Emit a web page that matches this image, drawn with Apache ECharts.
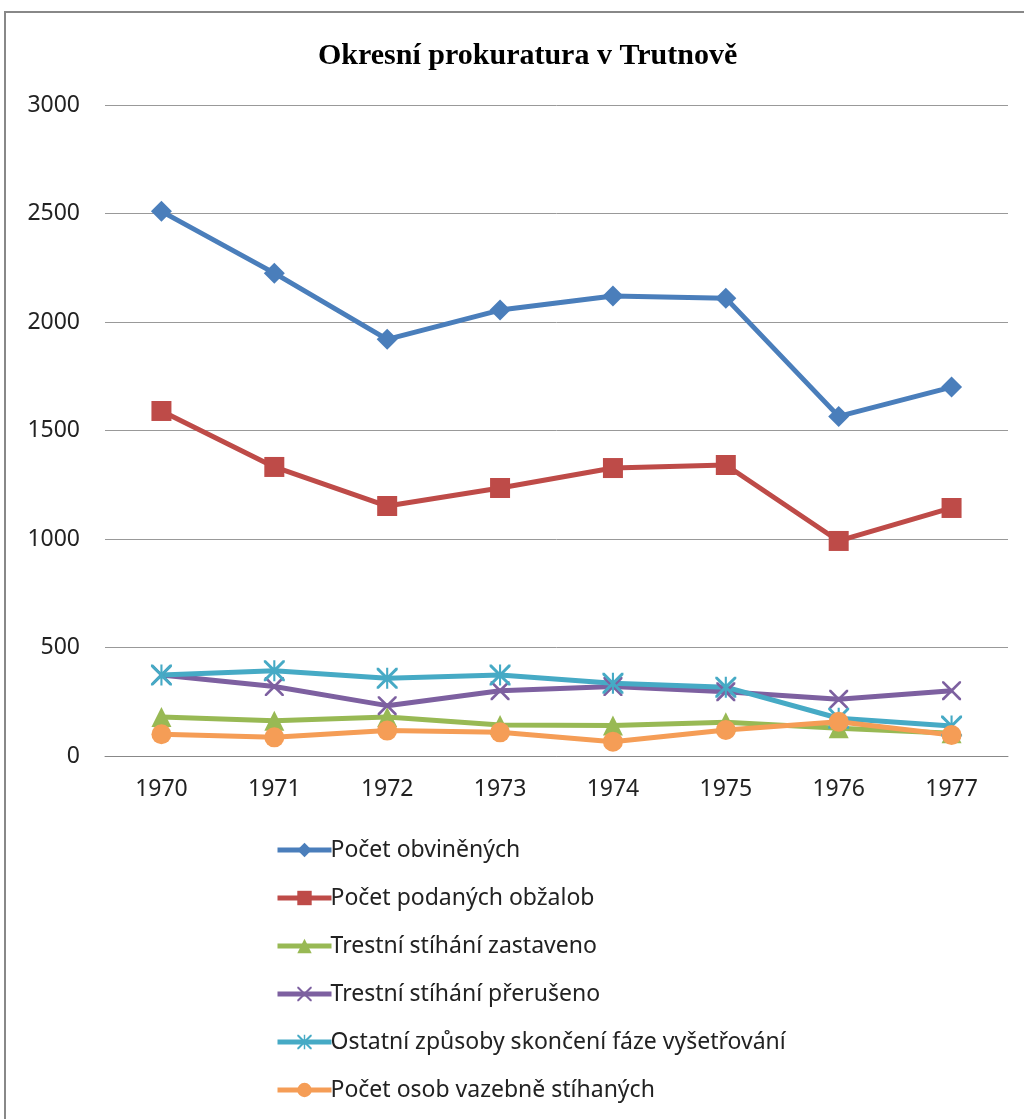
<!DOCTYPE html>
<html>
<head>
<meta charset="utf-8">
<script src="https://cdn.jsdelivr.net/npm/echarts@6/dist/echarts.min.js"></script>
<style>
  html, body { margin: 0; padding: 0; background: #fff; }
  #main { width: 1024px; height: 1119px; }
</style>
</head>
<body>
<div id="main"></div>
<script>
const years = ['1970', '1971', '1972', '1973', '1974', '1975', '1976', '1977'];
const obvinenych = [2510, 2225, 1920, 2055, 2120, 2110, 1565, 1700];
const obzalob = [1590, 1332, 1152, 1235, 1327, 1341, 991, 1143];
const zastaveno = [180, 163, 180, 143, 140, 155, 128, 105];
const preruseno = [373, 320, 232, 301, 320, 296, 261, 301];
const ostatni = [373, 393, 358, 373, 335, 317, 174, 138];
const vazebne = [100, 86, 117, 109, 66, 120, 158, 97];
const yTicks = [0, 500, 1000, 1500, 2000, 2500, 3000];

const crossPath = 'path://M0,0L2,0L10,8L18,0L20,0L20,2L12,10L20,18L20,20L18,20L10,12L2,20L0,20L0,18L8,10L0,2Z';
const starPath = 'path://M0,0L2,0L10,8L18,0L20,0L20,2L12,10L20,18L20,20L18,20L10,12L2,20L0,20L0,18L8,10L0,2Z M9,0L11,0L11,20L9,20Z';

const font = 'Noto Sans';

function line(name, data, color, symbol, size) {
  return {
    name: name,
    type: 'line',
    data: data,
    symbol: symbol,
    symbolSize: size,
    showAllSymbol: true,
    lineStyle: { color: color, width: 5 },
    itemStyle: { color: color },
    emphasis: { disabled: true }
  };
}

const chart = echarts.init(document.getElementById('main'));
chart.setOption({
  animation: false,
  backgroundColor: '#fff',
  graphic: [{
    type: 'rect',
    shape: { x: 5, y: 12, width: 1040, height: 1130 },
    style: { fill: 'none', stroke: '#888', lineWidth: 2 }
  }],
  title: {
    text: 'Okresní prokuratura v Trutnově',
    left: 313,
    top: 36,
    textStyle: { fontFamily: 'Liberation Serif', fontWeight: 'bold', fontSize: 30, color: '#000' }
  },
  grid: { left: 105, right: 16, top: 105, bottom: 363 },
  xAxis: {
    type: 'category',
    data: years,
    boundaryGap: true,
    axisLine: { lineStyle: { color: '#888', width: 1 } },
    axisTick: { show: false },
    axisLabel: { fontFamily: font, fontSize: 23, color: '#222', margin: 22 }
  },
  yAxis: {
    type: 'value',
    min: yTicks[0],
    max: yTicks[yTicks.length - 1],
    interval: 500,
    axisLine: { show: false },
    axisTick: { show: false },
    splitLine: { lineStyle: { color: '#999', width: 1 } },
    axisLabel: { fontFamily: font, fontSize: 23, color: '#222', margin: 25, formatter: function (v) { return String(v); } }
  },
  legend: {
    orient: 'vertical',
    left: 270,
    top: 833,
    itemWidth: 54,
    itemHeight: 18,
    itemGap: 24,
    lineStyle: { width: 5 },
    textStyle: { fontFamily: font, fontSize: 23, lineHeight: 24, color: '#222', padding: [0, 0, 0, -6] }
  },
  series: [
    line('Počet obviněných', obvinenych, '#4A7EBB', 'diamond', 21),
    line('Počet podaných obžalob', obzalob, '#BE4B48', 'rect', 20),
    line('Trestní stíhání zastaveno', zastaveno, '#98B954', 'triangle', 20),
    line('Trestní stíhání přerušeno', preruseno, '#7D60A0', crossPath, 19),
    line('Ostatní způsoby skončení fáze vyšetřování', ostatni, '#46AAC5', starPath, 21),
    line('Počet osob vazebně stíhaných', vazebne, '#F59D56', 'circle', 20)
  ]
});
</script>
</body>
</html>
